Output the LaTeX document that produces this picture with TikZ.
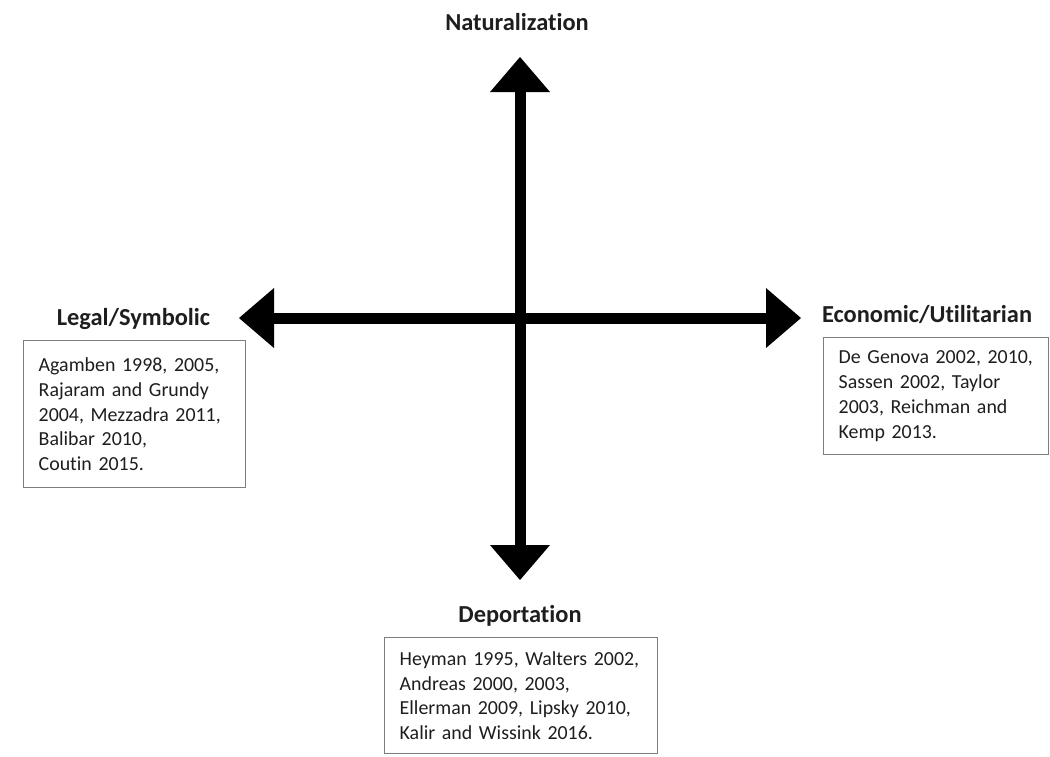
\documentclass[tikz,border=0pt]{standalone}
\usepackage{fontspec}
\setmainfont{Carlito}[Ligatures={NoCommon,NoContextual}]
\usetikzlibrary{arrows.meta}
\definecolor{boxline}{RGB}{125,125,125}
\definecolor{ink}{RGB}{30,30,30}
\begin{document}
\begin{tikzpicture}[x=1pt,y=-1pt,
  axisline/.style={line width=11pt,
    {Triangle[length=35pt,width=60pt,line width=0pt]}-{Triangle[length=35pt,width=60pt,line width=0pt]}},
  lab/.style={font=\bfseries\fontsize{24.4}{29}\selectfont, text=ink, inner sep=0pt, anchor=base},
  refbox/.style={draw=boxline, line width=1.4pt, fill=white, anchor=north west,
    font=\fontsize{19.9}{24.8}\selectfont, text=ink, align=left,
    inner xsep=15pt, inner ysep=0pt}
]
\fill[white] (0,0) rectangle (1050,756);
\useasboundingbox (0,0) rectangle (1050,756);

\coordinate (N) at (520,57);
\coordinate (S) at (520,580);
\coordinate (W) at (239,318);
\coordinate (E) at (801,318);

\draw[axisline] (S) -- (N);
\draw[axisline] (W) -- (E);

\node[lab] (nat) at (517,30) {Naturalization};
\node[lab] (leg) at (133.5,325) {Legal/Symbolic};
\node[lab] (eco) at (927,322) {Economic/Utilitarian};
\node[lab] (dep) at (520,622) {Deportation};

\node[refbox, text width=192pt, minimum width=222pt, minimum height=147pt] (lbox) at (23,340)
  {\mbox{Agamben 1998, 2005,}\\ \mbox{Rajaram and Grundy}\\ \mbox{2004, Mezzadra 2011,}\\ \mbox{Balibar 2010,}\\ \mbox{Coutin 2015.}};
\node[refbox, text width=195pt, minimum width=225pt, minimum height=117pt] (rbox) at (823,337)
  {\mbox{De Genova 2002, 2010,}\\ \mbox{Sassen 2002, Taylor}\\ \mbox{2003, Reichman and}\\ \mbox{Kemp 2013.}};
\node[refbox, text width=243pt, minimum width=273pt, minimum height=116pt] (bbox) at (384,637)
  {\mbox{Heyman 1995, Walters 2002,}\\ \mbox{Andreas 2000, 2003,}\\ \mbox{Ellerman 2009, Lipsky 2010,}\\ \mbox{Kalir and Wissink 2016.}};
\end{tikzpicture}
\end{document}
